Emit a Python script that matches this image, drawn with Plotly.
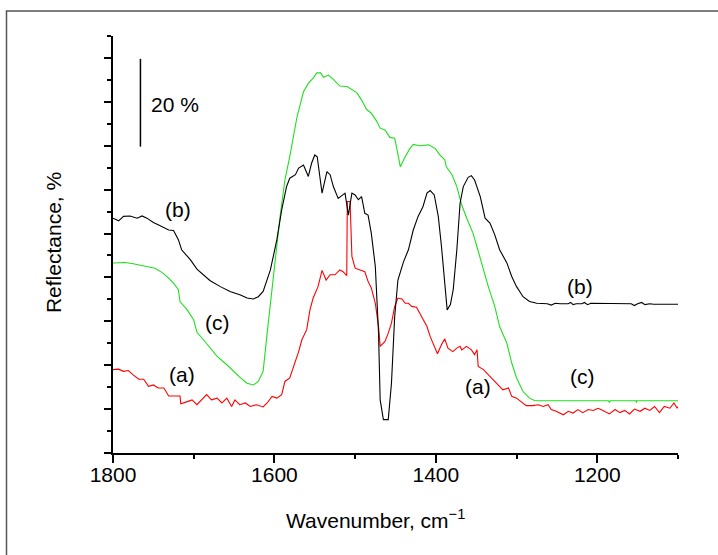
import plotly.graph_objects as go

# ---- data (wavenumber cm^-1, reflectance %) ----
wn_a = [1800, 1793, 1787, 1781, 1775, 1768, 1762, 1756, 1750, 1744, 1737, 1731, 1717, 1716, 1708, 1702,
        1696, 1690, 1684, 1678, 1671, 1665, 1659, 1653, 1649, 1643, 1636, 1630, 1622, 1614, 1609, 1603,
        1597, 1591, 1587, 1581, 1574, 1570, 1566, 1560, 1556, 1552, 1546, 1541, 1536, 1531, 1525, 1519,
        1515, 1510.4, 1509.7, 1506.3, 1504, 1500, 1494, 1488, 1484, 1480, 1475, 1471, 1469, 1463, 1459,
        1455, 1451, 1447, 1442, 1438, 1434, 1430, 1424, 1418, 1411, 1407, 1403, 1398, 1393, 1389, 1385,
        1379, 1374, 1370, 1368, 1362, 1356, 1352, 1349, 1347.5, 1341, 1333, 1325, 1317, 1310, 1306, 1300,
        1294, 1288, 1280, 1273, 1267, 1261, 1257, 1251, 1242, 1236, 1230, 1224, 1218, 1211, 1205, 1199,
        1193, 1185, 1178, 1172, 1166, 1160, 1154, 1147, 1141, 1135, 1129, 1123, 1117, 1110, 1105, 1101, 1100]
refl_a = [19.0, 19.1, 18.6, 18.8, 17.8, 16.8, 16.8, 15.2, 15.5, 14.8, 14.8, 13.0, 13.0, 11.2, 11.7, 12.1,
          11.0, 12.1, 13.3, 12.1, 12.5, 11.4, 12.5, 10.6, 12.1, 11.0, 11.4, 10.6, 11.0, 10.5, 11.4, 12.9,
          12.5, 13.3, 16.3, 17.1, 20.9, 23.1, 25.8, 28.1, 32.6, 35.3, 37.9, 41.6, 39.4, 40.6, 40.6, 41.7,
          41.3, 40.4, 57.3, 57.3, 44.8, 42.1, 41.7, 41.3, 39.1, 37.6, 34.1, 28.8, 24.3, 25.4, 27.3,
          29.6, 33.4, 35.3, 35.1, 34.1, 34.1, 33.4, 33.2, 31.1, 28.8, 26.5, 24.7, 22.6, 24.7, 26.0, 23.9,
          23.1, 23.9, 24.3, 23.5, 24.3, 23.5, 22.4, 23.5, 19.7, 19.0, 17.4, 15.9, 14.4, 14.8, 12.9, 12.5,
          11.7, 10.8, 10.8, 11.0, 10.6, 11.0, 9.9, 9.5, 8.7, 9.5, 9.1, 9.9, 9.2, 9.9, 9.7, 10.2,
          9.7, 8.9, 9.9, 9.2, 9.7, 8.9, 10.0, 9.5, 10.2, 9.7, 10.6, 9.2, 10.6, 10.2, 11.4, 10.2, 10.6]

wn_b = [1800, 1793, 1787, 1779, 1770, 1764, 1758, 1750, 1744, 1737, 1731, 1725, 1719, 1715, 1704, 1696,
        1688, 1680, 1667, 1655, 1642, 1634, 1626, 1620, 1614, 1605, 1597, 1591, 1585, 1581, 1574, 1570,
        1564, 1558, 1554, 1550, 1547, 1541, 1535, 1531, 1527, 1521, 1512.5, 1508.4, 1504, 1500, 1496,
        1492, 1488, 1484, 1480, 1475, 1471, 1469, 1465, 1459, 1455, 1451, 1447, 1440, 1434, 1428, 1422,
        1416, 1411, 1407, 1402, 1397, 1393, 1389, 1386, 1382, 1378.5, 1374, 1370, 1366, 1360, 1356, 1352,
        1345, 1339, 1333, 1327, 1321, 1312, 1306, 1300, 1292, 1284, 1275, 1262, 1257, 1252, 1246, 1236,
        1233, 1230, 1226, 1219, 1216, 1212, 1208, 1180, 1158, 1154, 1150, 1145, 1141, 1135, 1130, 1100]
refl_b = [53.5, 52.9, 53.9, 54.0, 53.5, 54.0, 53.5, 52.5, 52.0, 51.4, 50.8, 50.7, 48.6, 46.3, 44.0, 41.9,
          40.6, 39.3, 37.9, 36.8, 36.0, 35.3, 35.1, 35.6, 36.8, 41.7, 48.6, 55.4, 60.7, 62.6, 63.4, 64.9,
          65.6, 63.0, 66.0, 67.9, 67.5, 59.2, 64.1, 63.4, 60.7, 58.0, 59.2, 54.2, 59.2, 58.8, 57.7,
          58.4, 54.6, 54.2, 50.1, 42.5, 27.3, 12.1, 7.6, 7.6, 15.9, 31.1, 39.4, 43.6, 46.3, 50.8, 53.9,
          56.1, 59.2, 59.8, 58.8, 53.9, 47.0, 38.7, 32.6, 33.8, 37.2, 46.3, 56.9, 60.7, 62.8, 63.2, 62.2,
          58.4, 53.5, 52.4, 49.7, 46.3, 43.3, 40.2, 37.9, 35.6, 34.5, 34.1, 34.0, 33.7, 34.1, 34.0, 34.0,
          34.3, 33.8, 34.0, 34.0, 34.3, 33.8, 34.1, 34.0, 34.0, 33.6, 34.0, 34.3, 33.8, 34.0, 33.9, 33.9]

wn_c = [1800, 1785, 1775, 1758, 1748, 1739, 1733, 1725, 1719, 1717, 1708, 1700, 1696, 1688, 1680, 1671,
        1659, 1651, 1643, 1634, 1626, 1620, 1614, 1609, 1601, 1593, 1587, 1581, 1572, 1564, 1558, 1552,
        1547.5, 1543, 1539, 1533, 1527, 1519, 1510, 1504, 1498, 1492, 1486, 1480, 1473, 1469, 1463,
        1457, 1451, 1448, 1444, 1438, 1432, 1428, 1420, 1409, 1401, 1395, 1389, 1387, 1380, 1374, 1370,
        1368, 1360, 1354, 1348, 1341, 1335, 1327, 1321, 1312, 1306, 1300, 1292, 1284, 1277, 1186, 1185,
        1184, 1152, 1151.5, 1151, 1100]
refl_c = [43.3, 43.4, 43.1, 42.5, 42.1, 41.1, 40.2, 38.7, 37.2, 34.5, 32.6, 30.3, 27.5, 25.8, 23.9, 22.0,
          20.1, 18.6, 17.3, 15.9, 15.5, 16.3, 18.6, 27.3, 41.0, 53.9, 62.2, 67.5, 76.6, 82.3, 84.2, 85.4,
          86.6, 86.6, 85.6, 86.1, 85.1, 83.6, 83.5, 82.7, 82.1, 80.4, 78.3, 77.4, 75.5, 74.0, 73.6,
          71.9, 71.7, 69.0, 65.2, 67.5, 69.4, 70.3, 70.0, 70.2, 69.4, 67.9, 66.8, 65.2, 63.4, 60.7, 58.0,
          56.5, 52.7, 50.1, 46.3, 41.7, 37.9, 33.4, 28.8, 25.0, 20.5, 17.1, 14.0, 12.5, 11.9, 11.9, 11.5,
          11.9, 11.9, 11.5, 11.9, 11.9]

x_ticks = [1800, 1600, 1400, 1200]
x_range = [1800, 1100]
y_range = [0, 95]

# label positions (data coords)
labels = [("(b)", 1719, 55.4), ("(c)", 1670, 29.7), ("(a)", 1714, 17.9),
          ("(b)", 1222, 37.9), ("(c)", 1218, 17.4), ("(a)", 1348, 15.1)]
scale_bar_x = 1766
scale_bar_y = [69.8, 89.8]

FONT = "Arial, Liberation Sans, sans-serif"
FS = 21

fig = go.Figure()
fig.add_trace(go.Scatter(x=wn_a, y=refl_a, mode="lines", line=dict(color="#ff0000", width=1.1), name="(a)"))
fig.add_trace(go.Scatter(x=wn_c, y=refl_c, mode="lines", line=dict(color="#1ee01e", width=1.1), name="(c)"))
fig.add_trace(go.Scatter(x=wn_b, y=refl_b, mode="lines", line=dict(color="#000000", width=1.1), name="(b)"))

for txt, x, y in labels:
    fig.add_annotation(x=x, y=y, text=txt, showarrow=False, font=dict(family=FONT, size=FS, color="black"),
                       xanchor="center", yanchor="middle")

fig.add_annotation(x=1723, y=79.3, text="20 %", showarrow=False,
                   font=dict(family=FONT, size=FS, color="black"), xanchor="center", yanchor="middle")
fig.add_shape(type="line", xref="x", yref="y", x0=scale_bar_x, x1=scale_bar_x,
              y0=scale_bar_y[0], y1=scale_bar_y[1], line=dict(color="black", width=1.5))

# axis titles
fig.add_annotation(xref="paper", yref="paper", x=0.465, y=-0.158, text="Wavenumber, cm<sup>\u22121</sup>",
                   showarrow=False, font=dict(family=FONT, size=FS, color="black"),
                   xanchor="center", yanchor="middle")
fig.add_annotation(xref="paper", yref="paper", x=-0.104, y=0.504, text="Reflectance, %", textangle=-90,
                   showarrow=False, font=dict(family=FONT, size=FS, color="black"),
                   xanchor="center", yanchor="middle")

# outer frame
fig.add_shape(type="rect", xref="paper", yref="paper", x0=-0.1885, x1=1.1, y0=-0.4, y1=1.0600,
              line=dict(color="#555555", width=1.5), layer="below")

fig.update_layout(
    width=718, height=555,
    margin=dict(l=113, r=40, t=36, b=102),
    paper_bgcolor="white", plot_bgcolor="white",
    showlegend=False,
    font=dict(family=FONT, color="black"),
)
fig.update_xaxes(range=x_range, tickvals=x_ticks, ticks="outside", ticklen=8, tickwidth=1.5,
                 tickcolor="black", showline=True, linecolor="black", linewidth=1.5,
                 showgrid=False, zeroline=False, tickfont=dict(family=FONT, size=FS, color="black"),
                 ticklabelstandoff=-6,
                 minor=dict(dtick=100, tick0=1800, ticks="outside", ticklen=4, tickwidth=1.5, tickcolor="black",
                            showgrid=False))
fig.update_yaxes(range=y_range, dtick=10, tick0=0, ticks="outside", ticklen=7, tickwidth=1.5,
                 tickcolor="black", showline=True, linecolor="black", linewidth=1.5,
                 showgrid=False, zeroline=False, showticklabels=False,
                 minor=dict(dtick=5, tick0=0, ticks="outside", ticklen=4, tickwidth=1.5, tickcolor="black",
                            showgrid=False))

fig.write_html("out.html", config={"displayModeBar": False},
               post_script="document.body.style.margin='0px';")
